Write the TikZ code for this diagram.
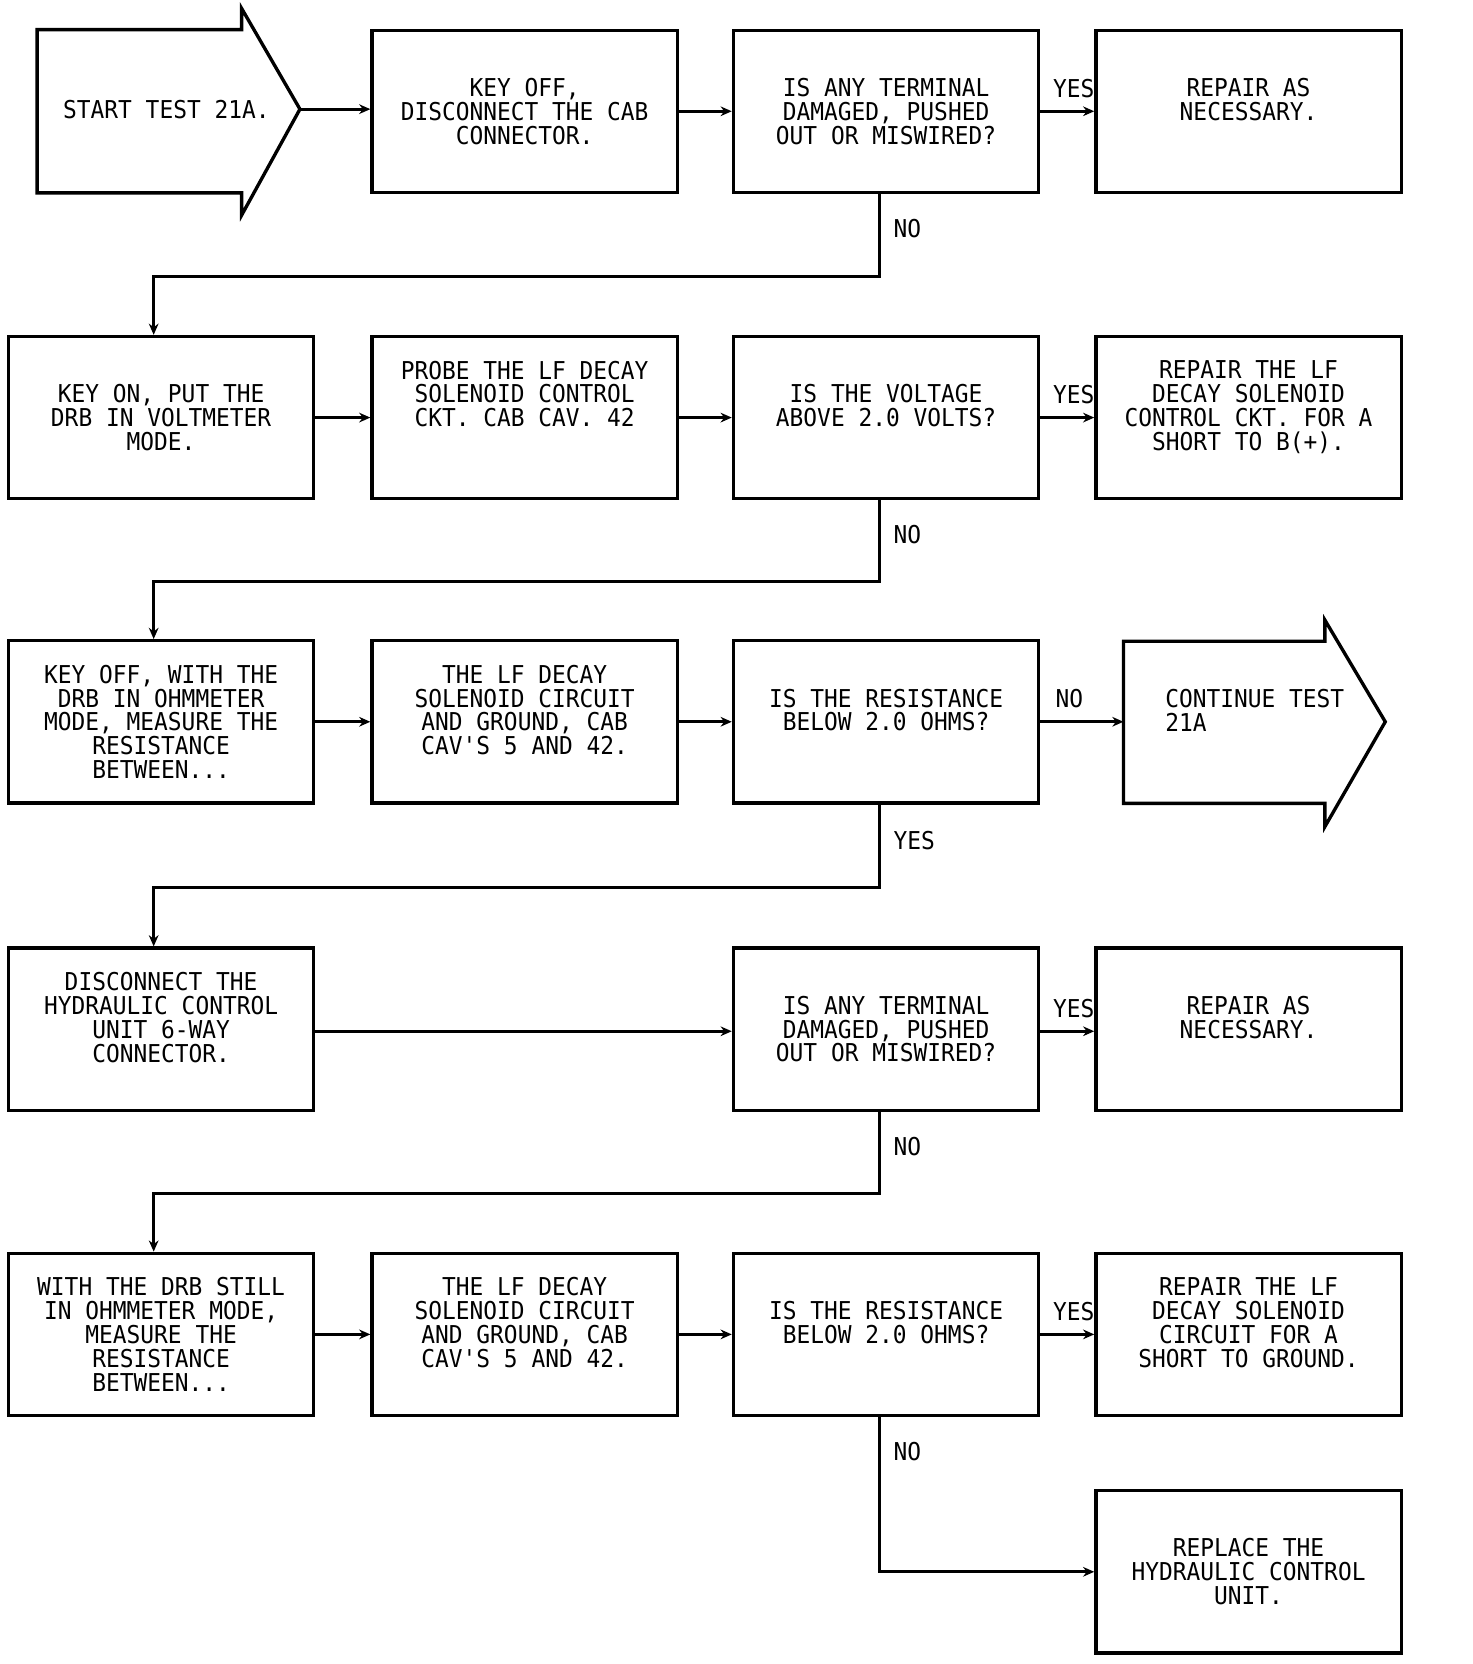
\documentclass[tikz,border=0pt]{standalone}
\usepackage{fontspec}
\newfontfamily\plotfont[FakeStretch=0.93]{DejaVu Sans Mono}
\usetikzlibrary{positioning,arrows.meta}

\begin{document}
\begin{tikzpicture}[x=0.1mm,y=-0.1mm,
  every node/.style={font=\plotfont\fontsize{6.6}{6.4}\selectfont},
  box/.style={draw,line width=0.9pt,minimum width=2.88cm,minimum height=1.53cm,align=center,inner sep=0pt},
  flow/.style={line width=0.8pt,-{Stealth[length=3pt,width=2.6pt]}}]
\useasboundingbox (0,0) rectangle (1389,1570);
% start and continue arrows
\draw[line width=0.9pt] (35,28) -- (228,28) -- (228,8) -- (283,103) -- (228,203) -- (228,182) -- (35,182) -- cycle;
\node (start) at (157,103) {START TEST 21A.};
\coordinate (starttip) at (283,103);
\draw[line width=0.9pt] (1060,605) -- (1250,605) -- (1250,585) -- (1307,681) -- (1250,780) -- (1250,758) -- (1060,758) -- cycle;
\node[align=left,anchor=west] (cont) at (1087,670) {CONTINUE TEST\\21A};
\coordinate (contin) at (1060,681);
% row 1
\node[box] (k1) at (495,105) {KEY OFF,\\DISCONNECT THE CAB\\CONNECTOR.};
\node[box] (q1) at (836,105) {IS ANY TERMINAL\\DAMAGED, PUSHED\\OUT OR MISWIRED?};
\node[box] (fix1) at (1178,105) {REPAIR AS\\NECESSARY.\\~};
% row 2
\node[box] (on2) at (152,394) {KEY ON, PUT THE\\DRB IN VOLTMETER\\MODE.};
\node[box] (probe2) at (495,394) {PROBE THE LF DECAY\\SOLENOID CONTROL\\CKT. CAB CAV. 42\\~\\~};
\node[box] (q2) at (836,394) {IS THE VOLTAGE\\ABOVE 2.0 VOLTS?\\~};
\node[box] (fix2) at (1178,394) {REPAIR THE LF\\DECAY SOLENOID\\CONTROL CKT. FOR A\\SHORT TO B(+).\\~};
% row 3
\node[box] (off3) at (152,681) {KEY OFF, WITH THE\\DRB IN OHMMETER\\MODE, MEASURE THE\\RESISTANCE\\BETWEEN...};
\node[box] (circ3) at (495,681) {THE LF DECAY\\SOLENOID CIRCUIT\\AND GROUND, CAB\\CAV'S 5 AND 42.\\~};
\node[box] (q3) at (836,681) {IS THE RESISTANCE\\BELOW 2.0 OHMS?\\~};
% row 4
\node[box] (disc4) at (152,971) {DISCONNECT THE\\HYDRAULIC CONTROL\\UNIT 6-WAY\\CONNECTOR.\\~};
\node[box] (q4) at (836,971) {IS ANY TERMINAL\\DAMAGED, PUSHED\\OUT OR MISWIRED?};
\node[box] (fix4) at (1178,971) {REPAIR AS\\NECESSARY.\\~};
% row 5
\node[box] (still5) at (152,1259) {WITH THE DRB STILL\\IN OHMMETER MODE,\\MEASURE THE\\RESISTANCE\\BETWEEN...};
\node[box] (circ5) at (495,1259) {THE LF DECAY\\SOLENOID CIRCUIT\\AND GROUND, CAB\\CAV'S 5 AND 42.\\~};
\node[box] (q5) at (836,1259) {IS THE RESISTANCE\\BELOW 2.0 OHMS?\\~};
\node[box] (fix5) at (1178,1259) {REPAIR THE LF\\DECAY SOLENOID\\CIRCUIT FOR A\\SHORT TO GROUND.\\~};
% row 6
\node[box] (repl6) at (1178,1483) {REPLACE THE\\HYDRAULIC CONTROL\\UNIT.};
% connectors
\draw[flow] (starttip) -- (starttip -| k1.west);
\draw[flow] (k1.east) -- (q1.west);
\draw[flow] (q1.east) -- node[above,pos=0.62] {YES} (fix1.west);
\draw[flow] ([xshift=-0.6mm]q1.south) -- node[right,pos=0.42] {NO} ++(0,78) -| ([xshift=-0.7mm]on2.north);
\draw[flow] (on2.east) -- (probe2.west);
\draw[flow] (probe2.east) -- (q2.west);
\draw[flow] (q2.east) -- node[above,pos=0.62] {YES} (fix2.west);
\draw[flow] ([xshift=-0.6mm]q2.south) -- node[right,pos=0.42] {NO} ++(0,77) -| ([xshift=-0.7mm]off3.north);
\draw[flow] (off3.east) -- (circ3.west);
\draw[flow] (circ3.east) -- (q3.west);
\draw[flow] (q3.east) -- node[above,pos=0.35] {NO} (contin);
\draw[flow] ([xshift=-0.6mm]q3.south) -- node[right,pos=0.43] {YES} ++(0,78) -| ([xshift=-0.7mm]disc4.north);
\draw[flow] ([yshift=-0.2mm]disc4.east) -- ([yshift=-0.2mm]q4.west);
\draw[flow] ([yshift=-0.2mm]q4.east) -- node[above,pos=0.62] {YES} ([yshift=-0.2mm]fix4.west);
\draw[flow] ([xshift=-0.6mm]q4.south) -- node[right,pos=0.42] {NO} ++(0,77) -| ([xshift=-0.7mm]still5.north);
\draw[flow] (still5.east) -- (circ5.west);
\draw[flow] (circ5.east) -- (q5.west);
\draw[flow] (q5.east) -- node[above,pos=0.62] {YES} (fix5.west);
\draw[flow] ([xshift=-0.6mm]q5.south) |- node[right,pos=0.11] {NO} (repl6.west);
\end{tikzpicture}
\end{document}
